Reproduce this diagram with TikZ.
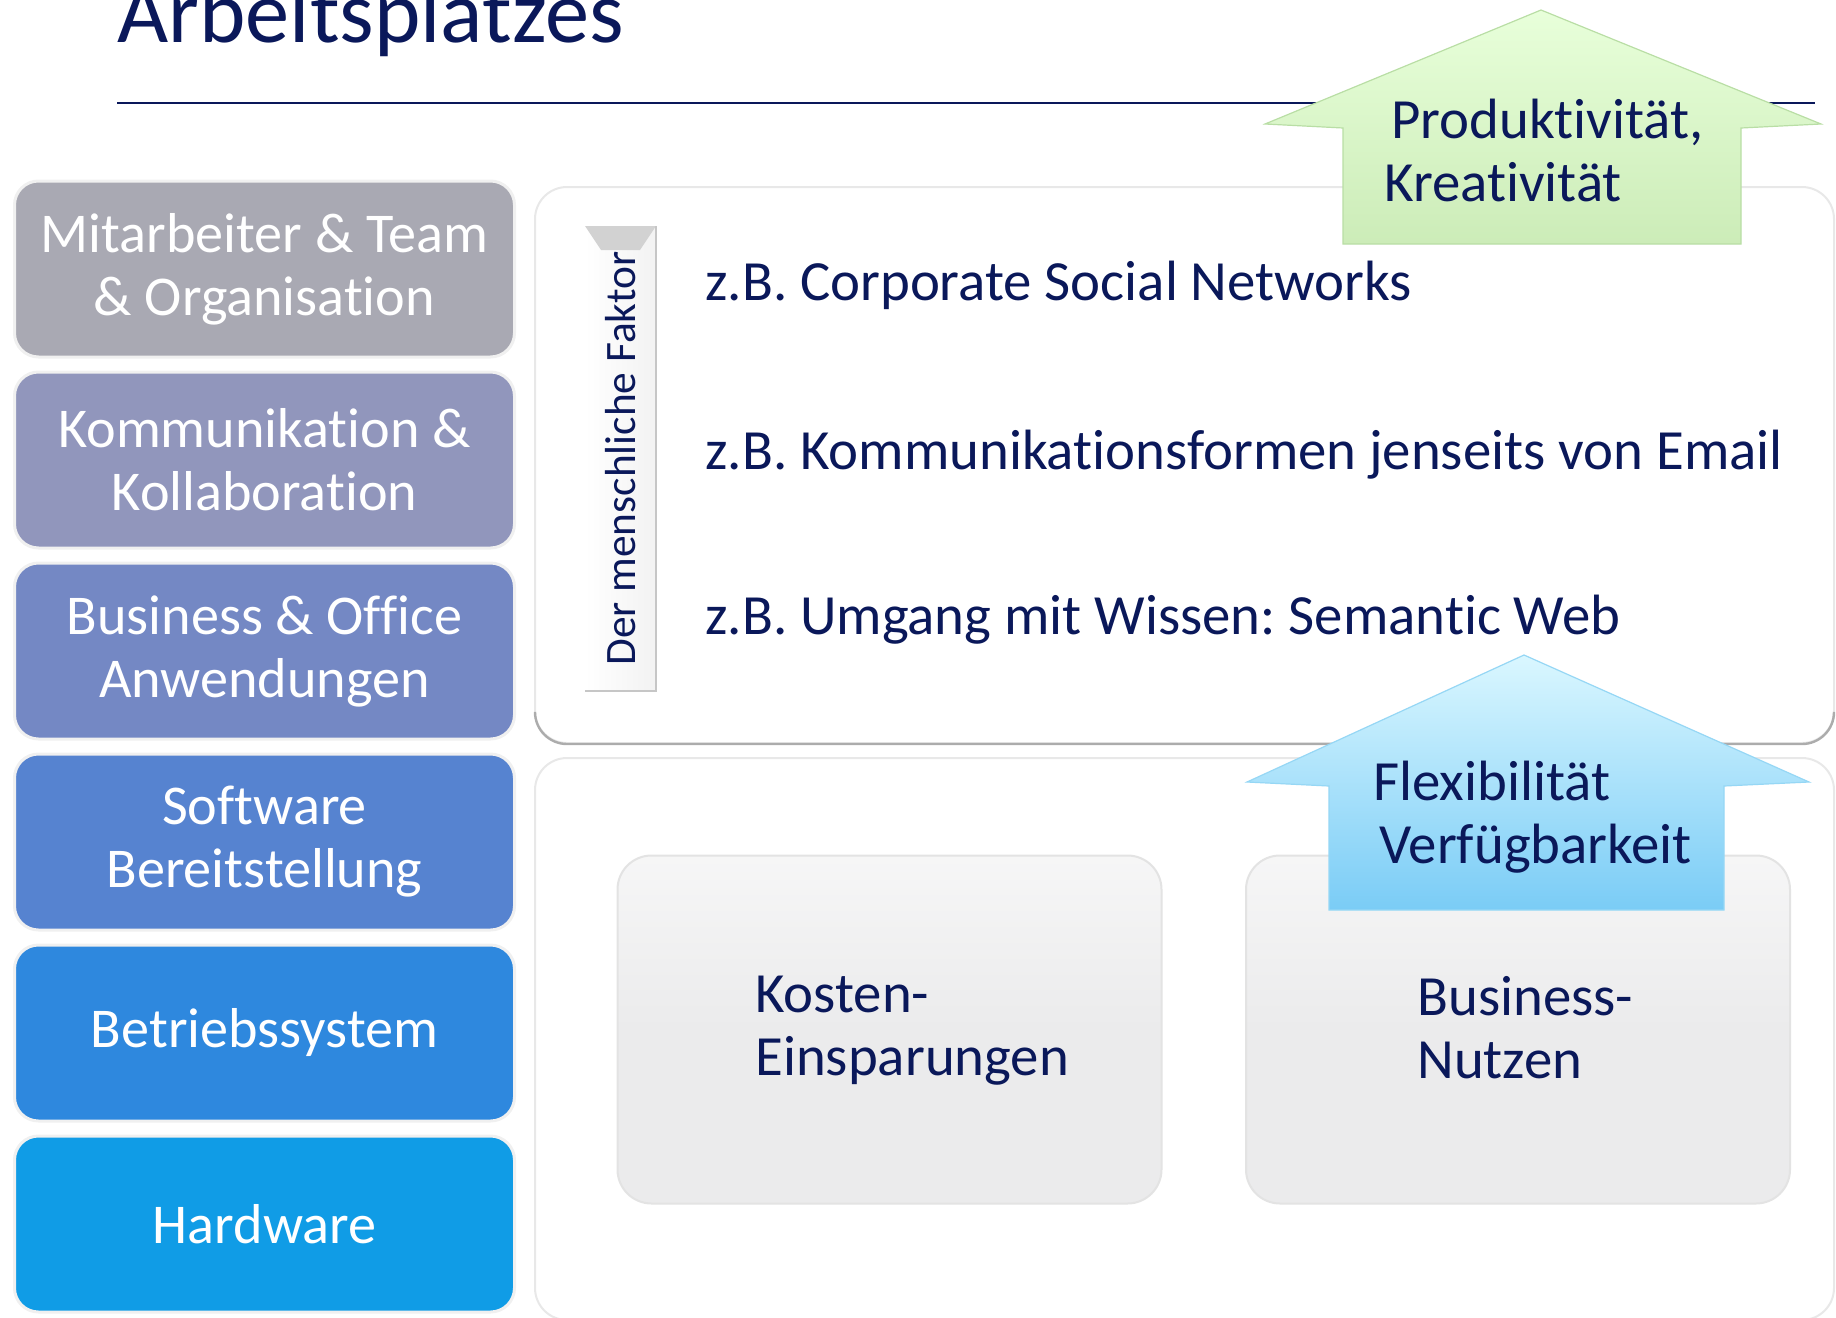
\documentclass[tikz,border=0pt]{standalone}
\usepackage{fontspec}
\setmainfont{Carlito}[Ligatures=NoCommon]
\usetikzlibrary{calc}
\frenchspacing

\definecolor{dunkelblau}{RGB}{10,24,90}
\definecolor{stufeA}{RGB}{169,169,179}
\definecolor{stufeB}{RGB}{145,150,188}
\definecolor{stufeC}{RGB}{116,136,196}
\definecolor{stufeD}{RGB}{86,131,208}
\definecolor{stufeE}{RGB}{46,136,222}
\definecolor{stufeF}{RGB}{16,156,230}
\definecolor{knopfgrau}{RGB}{235,235,236}
\definecolor{gruenhell}{RGB}{232,255,218}
\definecolor{gruendunkel}{RGB}{204,236,184}
\definecolor{gruenrand}{RGB}{185,222,165}
\definecolor{blauhell}{RGB}{218,247,255}
\definecolor{blaudunkel}{RGB}{122,204,246}
\definecolor{blaurand}{RGB}{150,215,245}

\tikzset{
  stufe/.style={draw=gray!12, line width=1.5pt, rounded corners=12pt,
    minimum width=250pt, minimum height=88pt, align=center,
    text=white, font=\fontsize{28.1}{31.5}\selectfont},
  schrift/.style={text=dunkelblau, font=\fontsize{28.4}{31.5}\selectfont,
    inner sep=0pt, align=left},
  knopf/.style={top color=white!55!knopfgrau, bottom color=knopfgrau,
    middle color=knopfgrau, draw=gray!22, line width=1pt,
    rounded corners=17pt, minimum width=272pt, minimum height=174pt},
  tafel/.style={draw=gray!18, line width=1pt, fill=white, rounded corners=16pt},
}

\begin{document}
\begin{tikzpicture}[x=0.5pt, y=-0.5pt]
    \useasboundingbox (0,0) rectangle (1836,1317);

    % Titel
    \node [anchor=base west, inner sep=0pt, text=dunkelblau,
        font=\fontsize{44.2}{50}\selectfont] (titel) at (117,42) {Arbeitsplatzes};
    \draw [dunkelblau, line width=1.2pt] (117,103) -- (1815,103);

    % Stufen links
    \foreach \i/\farbe/\inhalt in {
        1/stufeA/{Mitarbeiter \& Team\\\& Organisation},
        2/stufeB/{Kommunikation \&\\Kollaboration},
        3/stufeC/{Business \& Office\\Anwendungen},
        4/stufeD/{Software\\Bereitstellung},
        5/stufeE/{Betriebssystem},
        6/stufeF/{Hardware}}
    {
        \node [stufe, fill=\farbe] (stufe\i) at (264.5,{269+191*(\i-1)}) {\inhalt};
    }

    % obere und untere Tafel
    \draw [tafel] (535,187) rectangle (1834,743);
    \draw [gray!65, line width=1.2pt, rounded corners=16pt]
        (535,715) -- (535,744) -- (1834,744) -- (1834,715);
    \draw [tafel] (535,758) rectangle (1834,1320);

    % Der menschliche Faktor
    \coordinate (fo) at (585,226);
    \coordinate (fu) at (656,691);
    \shade [left color=white, right color=gray!10] (fo) rectangle (fu);
    \fill [gray!35] (585,226) -- (656,226) -- (640,250) -- (601,250) -- cycle;
    \draw [gray!45, line width=0.6pt] (656,226) -- (656,691) -- (585,691);
    \node [rotate=90, text=dunkelblau, font=\fontsize{21.7}{24}\selectfont]
        (faktor) at (620.5,458.5) {Der menschliche Faktor};

    % Beispiele
    \node [schrift, anchor=base west] (bsp1) at (705,300) {z.B. Corporate Social Networks};
    \node [schrift, anchor=base west] (bsp2) at (705,469) {z.B. Kommunikationsformen jenseits von Email};
    \node [schrift, anchor=base west] (bsp3) at (705,634) {z.B. Umgang mit Wissen: Semantic Web};

    % Knoepfe
    \node [knopf] (kosten) at (889.5,1029.5) {};
    \node [knopf] (nutzen) at (1518,1029.5) {};
    \node [schrift, anchor=base west] (kostenText) at (755,1075) {Kosten-\\Einsparungen};
    \node [schrift, anchor=base west] (nutzenText) at (1417,1078) {Business-\\Nutzen};

    % gruener Pfeil
    \shadedraw [top color=gruenhell, bottom color=gruendunkel, draw=gruenrand, line width=0.6pt]
        (1541,10) -- (1821,124) -- (1741,128) -- (1741,244)
        -- (1343,244) -- (1343,128) -- (1265,124) -- cycle;
    \node [schrift, anchor=base west] (prodText) at (1384,201)
        {\hspace{3.5pt}Produktivität,\\Kreativität};

    % blauer Pfeil
    \shadedraw [top color=blauhell, bottom color=blaudunkel, draw=blaurand, line width=0.6pt]
        (1524,655) -- (1809,782) -- (1724,786) -- (1724,910)
        -- (1329,910) -- (1329,786) -- (1247,782) -- cycle;
    \node [schrift, anchor=base west] (flexText) at (1373,863)
        {Flexibilität\\\hspace{3pt}Verfügbarkeit};

\end{tikzpicture}
\end{document}
